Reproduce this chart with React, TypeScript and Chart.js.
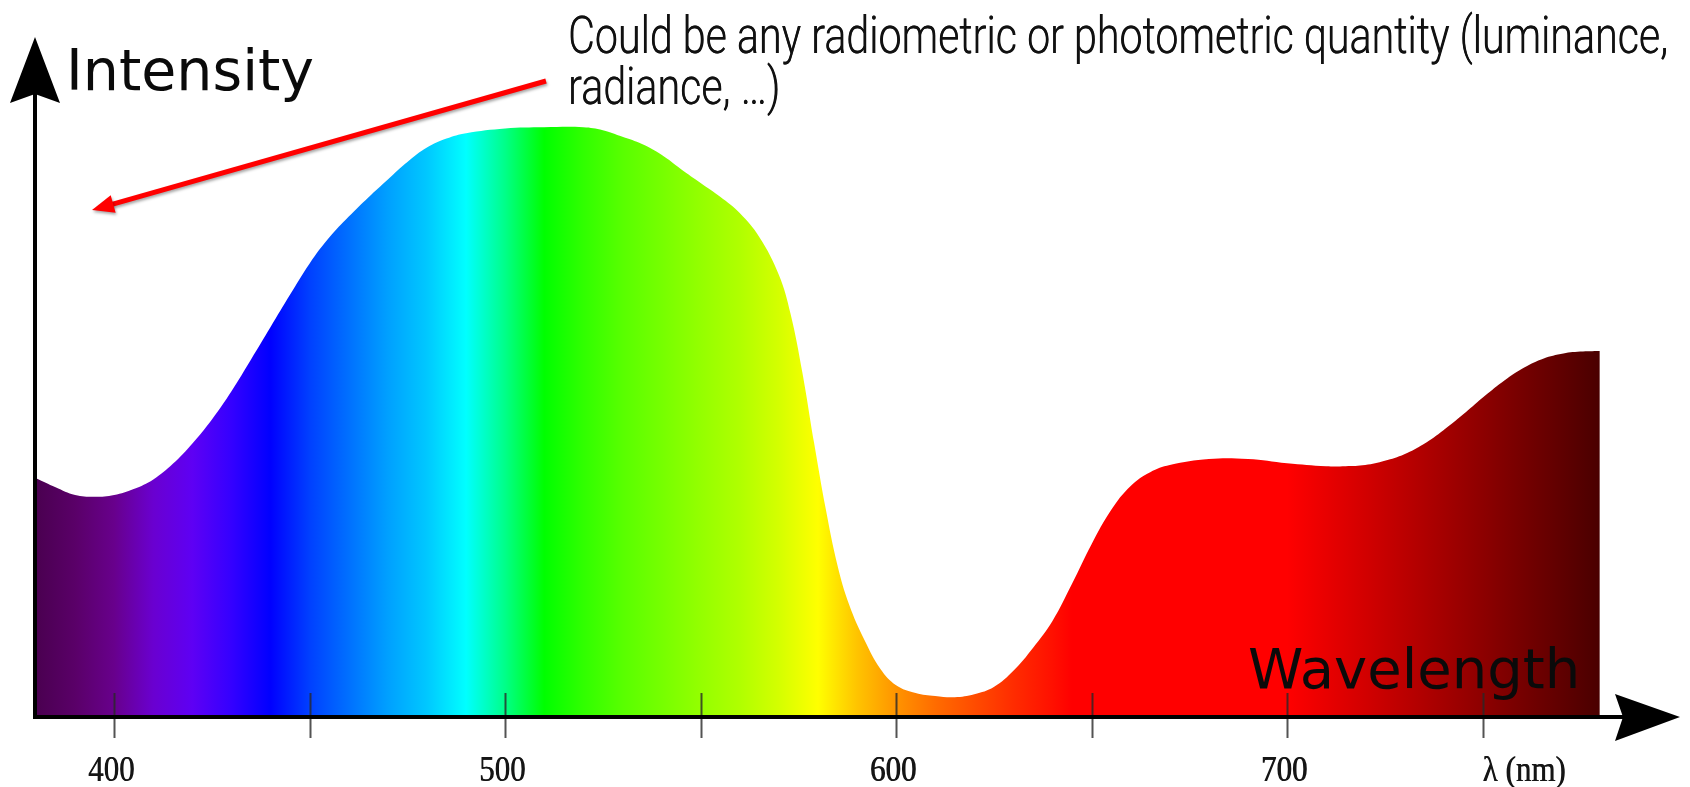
import React, { useEffect, useRef } from "react";
import { Chart, registerables } from "chart.js";

Chart.register(...registerables);

// ---- data ----
const wavelengths = [
  380, 385, 390, 395, 400, 405, 410, 415, 420, 425, 430, 435, 440, 445, 450, 455, 460, 465, 470, 475,
  480, 485, 490, 500, 510, 520, 525, 530, 535, 540, 545, 550, 555, 560, 565, 570, 573, 576, 579, 582,
  585, 588, 592, 596, 600, 605, 610, 615, 620, 625, 630, 635, 640, 645, 650, 655, 660, 665, 670, 680,
  690, 700, 710, 715, 720, 725, 730, 735, 740, 745, 750, 755, 760, 765, 770, 775, 780,
];
const intensity = [
  39.8, 38.3, 37.0, 36.7, 37.0, 38.0, 39.6, 42.2, 45.6, 49.6, 54.3, 59.6, 65.0, 70.4, 75.6, 79.9, 83.4, 86.6, 89.6, 92.5,
  94.9, 96.4, 97.3, 98.1, 98.3, 98.3, 97.8, 96.7, 95.5, 93.7, 91.3, 89.0, 86.7, 84.0, 80.0, 73.7, 67.2, 57.5, 45.8, 34.7,
  25.3, 18.7, 12.7, 8.0, 5.3, 4.0, 3.5, 3.3, 3.8, 5.0, 7.7, 11.5, 16.0, 22.2, 28.8, 34.5, 38.5, 40.8, 42.0, 43.0,
  43.0, 42.3, 41.8, 41.8, 42.0, 42.7, 43.8, 45.5, 47.8, 50.4, 53.2, 55.8, 58.0, 59.6, 60.5, 60.9, 61.0,
];
const tickValues = [400, 450, 500, 550, 600, 650, 700, 750];
const tickLabels = ["400", "", "500", "", "600", "", "700", "λ (nm)"];
const xTitle = "Wavelength";
const yTitle = "Intensity";
const noteLines = ["Could be any radiometric or photometric quantity (luminance,", "radiance, …)"];
const spectrumStart = 380;
const spectrumEnd = 780;

// ---- style: colour stops of the spectrum fill ----
const spectrumStops: [number, string][] = [
  [380, "#4a0050"], [390, "#5a0068"], [400, "#68008c"], [410, "#6a00d0"], [420, "#5e00f4"],
  [430, "#3400ff"], [440, "#0000ff"], [450, "#0040ff"], [460, "#0070ff"], [470, "#00a0ff"],
  [480, "#00c8ff"], [490, "#00ffff"], [500, "#00ff88"], [510, "#00ff00"], [520, "#30ff00"],
  [530, "#58ff00"], [540, "#76ff00"], [550, "#94ff00"], [560, "#b0ff00"], [570, "#d4ff00"],
  [580, "#ffff00"], [590, "#ffc400"], [600, "#ff9400"], [610, "#ff6c00"], [620, "#ff4c00"],
  [630, "#ff2c00"], [640, "#ff1000"], [645, "#ff0000"], [700, "#ff0000"], [720, "#d20000"],
  [740, "#a40000"], [760, "#760000"], [780, "#4a0000"],
];

const decorPlugin = {
  id: "decor",
  afterDraw(chart: any) {
    const ctx: CanvasRenderingContext2D = chart.ctx;
    const xs = chart.scales.x;
    const ys = chart.scales.y;
    const x0 = xs.getPixelForValue(spectrumStart);
    const yBase = ys.getPixelForValue(0);
    const xAxisEnd = xs.getPixelForValue(800);
    ctx.save();

    // tick marks
    ctx.strokeStyle = "rgba(40,40,40,0.8)";
    ctx.lineWidth = 2;
    tickValues.forEach((v) => {
      const px = Math.round(xs.getPixelForValue(v)) + 0.5;
      ctx.beginPath();
      ctx.moveTo(px, yBase - 24);
      ctx.lineTo(px, yBase + 21);
      ctx.stroke();
    });

    // x axis line + arrow
    ctx.strokeStyle = "#000";
    ctx.fillStyle = "#000";
    ctx.lineWidth = 4;
    ctx.beginPath();
    ctx.moveTo(x0 - 3, yBase);
    ctx.lineTo(xAxisEnd - 50, yBase);
    ctx.stroke();
    ctx.beginPath();
    ctx.moveTo(xAxisEnd + 2, yBase);
    ctx.lineTo(xAxisEnd - 63, yBase - 23);
    ctx.lineTo(xAxisEnd - 55, yBase);
    ctx.lineTo(xAxisEnd - 63, yBase + 24);
    ctx.closePath();
    ctx.fill();

    // y axis line + arrow
    const yTop = 37;
    ctx.beginPath();
    ctx.moveTo(x0 - 1, yBase + 2);
    ctx.lineTo(x0 - 1, yTop + 55);
    ctx.stroke();
    ctx.beginPath();
    ctx.moveTo(x0 - 1, yTop);
    ctx.lineTo(x0 + 24, yTop + 66);
    ctx.lineTo(x0 - 1, yTop + 57);
    ctx.lineTo(x0 - 26, yTop + 66);
    ctx.closePath();
    ctx.fill();

    // tick labels
    ctx.fillStyle = "#151515";
    ctx.font = "31px 'Liberation Serif', 'Times New Roman', serif";
    ctx.textBaseline = "alphabetic";
    tickValues.forEach((v, i) => {
      const lab = tickLabels[i];
      if (!lab) return;
      const px = xs.getPixelForValue(v);
      ctx.save();
      const last = i === tickValues.length - 1;
      ctx.translate(last ? px : px - 3, 781);
      ctx.scale(1, 1.15);
      ctx.textAlign = last ? "left" : "center";
      ctx.fillText(lab, 0, 0);
      ctx.fillText(lab, 0.6, 0);
      ctx.restore();
    });

    // axis titles
    ctx.fillStyle = "#0a0a0a";
    ctx.textAlign = "left";
    ctx.font = "57px 'DejaVu Sans', sans-serif";
    ctx.fillText(yTitle, 66, 90);
    ctx.font = "56px 'DejaVu Sans', sans-serif";
    ctx.fillText(xTitle, 1248, 688);

    // annotation text
    ctx.font = "300 52px Roboto, sans-serif";
    const w = ctx.measureText(noteLines[0]).width;
    const sx = 1100 / w;
    noteLines.forEach((line, i) => {
      ctx.save();
      ctx.translate(568, 53 + i * 51);
      ctx.scale(sx, 1);
      ctx.fillStyle = "#111";
      ctx.fillText(line, 0, 0);
      ctx.fillText(line, 0.4, 0);
      ctx.restore();
    });

    // red arrow
    const ax1 = 546, ay1 = 81, ax2 = 92, ay2 = 210;
    const ang = Math.atan2(ay2 - ay1, ax2 - ax1);
    ctx.shadowColor = "rgba(0,0,0,0.35)";
    ctx.shadowBlur = 3;
    ctx.shadowOffsetX = 1;
    ctx.shadowOffsetY = 2;
    ctx.strokeStyle = "#ff0000";
    ctx.fillStyle = "#ff0000";
    ctx.lineWidth = 5;
    const hl = 22, hw = 9;
    ctx.beginPath();
    ctx.moveTo(ax1, ay1);
    ctx.lineTo(ax2 - (hl - 4) * Math.cos(ang), ay2 - (hl - 4) * Math.sin(ang));
    ctx.stroke();
    ctx.beginPath();
    const bx = ax2 - hl * Math.cos(ang), by = ay2 - hl * Math.sin(ang);
    ctx.moveTo(ax2, ay2);
    ctx.lineTo(bx + hw * Math.sin(ang), by - hw * Math.cos(ang));
    ctx.lineTo(bx - hw * Math.sin(ang), by + hw * Math.cos(ang));
    ctx.closePath();
    ctx.fill();

    ctx.restore();
  },
};

export default function App() {
  const ref = useRef<HTMLCanvasElement>(null);
  useEffect(() => {
    if (!ref.current) return;
    const chart = new Chart(ref.current, {
      type: "line",
      data: {
        datasets: [
          {
            data: wavelengths.map((w, i) => ({ x: w, y: intensity[i] })),
            borderWidth: 0,
            borderColor: "rgba(0,0,0,0)",
            pointRadius: 0,
            fill: "origin",
            tension: 0.4,
            backgroundColor: (c: any) => {
              const ch = c.chart;
              const area = ch.chartArea;
              if (!area) return "#888";
              const sx = ch.scales.x;
              const a = sx.getPixelForValue(spectrumStart);
              const b = sx.getPixelForValue(spectrumEnd);
              const g = ch.ctx.createLinearGradient(a, 0, b, 0);
              spectrumStops.forEach(([nm, col]) =>
                g.addColorStop((nm - spectrumStart) / (spectrumEnd - spectrumStart), col)
              );
              return g;
            },
          } as any,
        ],
      },
      options: {
        animation: false,
        responsive: false,
        layout: { padding: { left: 36, right: 12, top: 117, bottom: 70 } },
        scales: {
          x: { type: "linear", min: 380, max: 800, display: false },
          y: { min: 0, max: 100, display: false },
        },
        plugins: { legend: { display: false }, tooltip: { enabled: false } },
        events: [],
      },
      plugins: [decorPlugin],
    });
    return () => chart.destroy();
  }, []);
  return (
    <div style={{ position: "fixed", left: 0, top: 0, width: 1690, height: 787, background: "#fff" }}>
      <canvas ref={ref} width={1690} height={787} style={{ display: "block" }} />
    </div>
  );
}
